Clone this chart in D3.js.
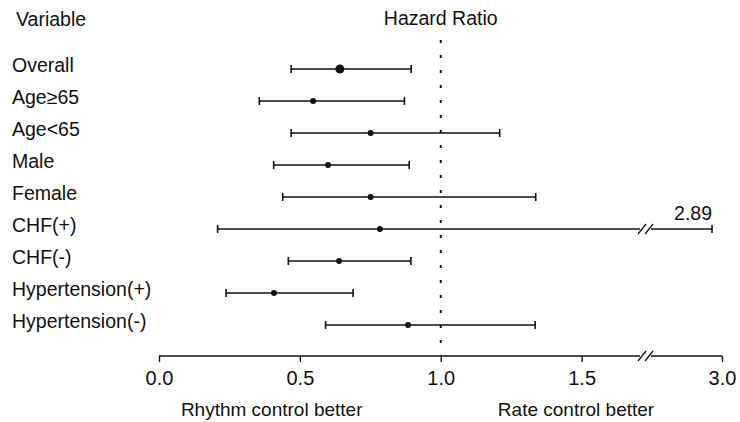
<!DOCTYPE html>
<html><head><meta charset="utf-8">
<script src="https://cdn.jsdelivr.net/npm/d3@7"></script>
<style>html,body{margin:0;padding:0;background:#fff;}svg{display:block;font-family:"Liberation Sans",Arial,sans-serif;}</style>
</head><body><svg id="c" width="740" height="422"></svg>
<script>
const variables = ["Overall","Age\u226565","Age<65","Male","Female","CHF(+)","CHF(-)","Hypertension(+)","Hypertension(-)"];
const hr    = [0.642, 0.547, 0.751, 0.600, 0.751, 0.784, 0.639, 0.408, 0.884];
const lower = [0.469, 0.356, 0.469, 0.407, 0.439, 0.208, 0.459, 0.238, 0.591];
const upper = [0.895, 0.871, 1.209, 0.888, 1.337, 2.89, 0.894, 0.689, 1.335];
const tickValues = [0, 0.5, 1.0, 1.5, 3.0];
const tickLabels = ["0.0", "0.5", "1.0", "1.5", "3.0"];
const breakLo = 1.70, breakHi = 2.25;
const sideLabels = ["Rhythm control better", "Rate control better"];
const sideCenters = [0.40, 1.48];

const svg = d3.select("#c");
const x = d3.scaleLinear().domain([0, breakLo, breakHi, 3.0]).range([159, 638, 654, 722]);
const y = d3.scalePoint().domain(variables).range([69, 325]);
const axisY = 356;
const ink = "#111";
const fs = 19.5;

// header
svg.append("text").attr("x", 16).attr("y", 26).attr("font-size", fs).attr("fill", ink).text("Variable");
svg.append("text").attr("x", x(1.0)).attr("y", 25).attr("text-anchor", "middle").attr("font-size", fs).attr("fill", ink).text("Hazard Ratio");

// reference line at 1.0
svg.append("line").attr("x1", x(1.0)).attr("x2", x(1.0)).attr("y1", 40).attr("y2", axisY)
  .attr("stroke", ink).attr("stroke-width", 2).attr("stroke-dasharray", "3,12");

// variable labels
svg.append("g").selectAll("text").data(variables).join("text")
  .attr("x", 12).attr("y", d => y(d) + 3).attr("font-size", fs).attr("fill", ink).text(d => d);

const mid = (x(breakLo) + x(breakHi)) / 2;
function slashes(g, cy) {
  [-4, 3].forEach(o => {
    g.append("line").attr("x1", mid + o - 4).attr("y1", cy + 5).attr("x2", mid + o + 4).attr("y2", cy - 5)
      .attr("stroke", ink).attr("stroke-width", 1.3);
  });
}

const rows = svg.append("g");
variables.forEach((v, i) => {
  const cy = y(v);
  const g = rows.append("g");
  if (upper[i] > breakHi) {
    g.append("line").attr("x1", x(lower[i])).attr("x2", mid - 6).attr("y1", cy).attr("y2", cy).attr("stroke", ink).attr("stroke-width", 1.4);
    g.append("line").attr("x1", mid + 5).attr("x2", x(upper[i])).attr("y1", cy).attr("y2", cy).attr("stroke", ink).attr("stroke-width", 1.4);
    slashes(g, cy);
  } else {
    g.append("line").attr("x1", x(lower[i])).attr("x2", x(upper[i])).attr("y1", cy).attr("y2", cy).attr("stroke", ink).attr("stroke-width", 1.4);
  }
  [lower[i], upper[i]].forEach(e => {
    g.append("line").attr("x1", x(e)).attr("x2", x(e)).attr("y1", cy - 4).attr("y2", cy + 4).attr("stroke", ink).attr("stroke-width", 1.6);
  });
  g.append("circle").attr("cx", x(hr[i])).attr("cy", cy).attr("r", i === 0 ? 4.5 : 3).attr("fill", ink);
  if (upper[i] > breakHi) {
    g.append("text").attr("x", x(upper[i])).attr("y", cy - 9).attr("text-anchor", "end").attr("font-size", fs).attr("fill", ink).text(upper[i].toFixed(2));
  }
});

// axis
const axis = d3.axisBottom(x).tickValues(tickValues).tickFormat((d, i) => tickLabels[i]).tickSize(6).tickPadding(9).tickSizeOuter(0);
const ag = svg.append("g").attr("transform", `translate(0,${axisY})`).call(axis);
ag.select(".domain").remove();
ag.selectAll(".tick line").attr("stroke", ink).attr("stroke-width", 1.4);
ag.selectAll(".tick text").attr("font-size", 20).attr("fill", ink).attr("font-family", "Liberation Sans, Arial, sans-serif");
ag.append("line").attr("x1", x(0)).attr("x2", mid - 6).attr("y1", 0).attr("y2", 0).attr("stroke", ink).attr("stroke-width", 1.4);
ag.append("line").attr("x1", mid + 5).attr("x2", x(3.0)).attr("y1", 0).attr("y2", 0).attr("stroke", ink).attr("stroke-width", 1.4);
slashes(ag, 0);

// side labels
svg.append("g").selectAll("text").data(sideLabels).join("text")
  .attr("x", (d, i) => x(sideCenters[i])).attr("y", 416).attr("text-anchor", "middle")
  .attr("font-size", 19).attr("fill", ink).text(d => d);
</script></body></html>
